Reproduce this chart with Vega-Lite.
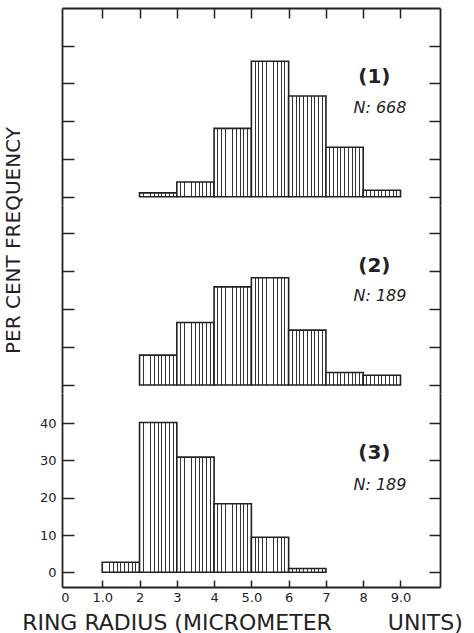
{
  "$schema": "https://vega.github.io/schema/vega-lite/v6.json",
  "background": "white",
  "padding": {"left": 2, "top": 7, "right": 0, "bottom": 0},
  "spacing": 0,
  "bounds": "flush",
  "config": {
    "view": {"stroke": null},
    "axis": {"grid": false, "domainColor": "#222", "domainWidth": 1.8, "tickColor": "#222", "tickWidth": 1.5, "labelFont": "DejaVu Sans", "labelColor": "#222", "titleFont": "DejaVu Sans", "titleColor": "#222", "titleFontWeight": "normal"}
  },
  "datasets": {
    "bars": [
      {"panel": "1", "x0": 2, "x1": 3, "pct": 1.0},
      {"panel": "1", "x0": 3, "x1": 4, "pct": 3.9},
      {"panel": "1", "x0": 4, "x1": 5, "pct": 18.1},
      {"panel": "1", "x0": 5, "x1": 6, "pct": 35.9},
      {"panel": "1", "x0": 6, "x1": 7, "pct": 26.7},
      {"panel": "1", "x0": 7, "x1": 8, "pct": 13.1},
      {"panel": "1", "x0": 8, "x1": 9, "pct": 1.7},
      {"panel": "2", "x0": 2, "x1": 3, "pct": 7.9},
      {"panel": "2", "x0": 3, "x1": 4, "pct": 16.5},
      {"panel": "2", "x0": 4, "x1": 5, "pct": 25.9},
      {"panel": "2", "x0": 5, "x1": 6, "pct": 28.3},
      {"panel": "2", "x0": 6, "x1": 7, "pct": 14.5},
      {"panel": "2", "x0": 7, "x1": 8, "pct": 3.3},
      {"panel": "2", "x0": 8, "x1": 9, "pct": 2.6},
      {"panel": "3", "x0": 1, "x1": 2, "pct": 2.7},
      {"panel": "3", "x0": 2, "x1": 3, "pct": 40.2},
      {"panel": "3", "x0": 3, "x1": 4, "pct": 30.9},
      {"panel": "3", "x0": 4, "x1": 5, "pct": 18.4},
      {"panel": "3", "x0": 5, "x1": 6, "pct": 9.4},
      {"panel": "3", "x0": 6, "x1": 7, "pct": 1.0}
    ],
    "labels": [
      {"panel": "1", "tag": "(1)", "n": "N: 668"},
      {"panel": "2", "tag": "(2)", "n": "N: 189"},
      {"panel": "3", "tag": "(3)", "n": "N: 189"}
    ]
  },
  "vconcat": [
    {
      "width": 378, "height": 197,
      "layer": [
        {
          "data": {"name": "bars"},
          "transform": [{"filter": "datum.panel == '1'"}],
          "mark": {"type": "rect", "stroke": "#222", "strokeWidth": 1.6, "fill": {"gradient": "linear", "x1": 0, "x2": 1, "y1": 0, "y2": 0, "stops": [
            {"offset": 0, "color": "white"},
            {"offset": 0.087, "color": "white"}, {"offset": 0.087, "color": "#333"}, {"offset": 0.113, "color": "#333"}, {"offset": 0.113, "color": "white"},
            {"offset": 0.187, "color": "white"}, {"offset": 0.187, "color": "#333"}, {"offset": 0.213, "color": "#333"}, {"offset": 0.213, "color": "white"},
            {"offset": 0.287, "color": "white"}, {"offset": 0.287, "color": "#333"}, {"offset": 0.313, "color": "#333"}, {"offset": 0.313, "color": "white"},
            {"offset": 0.387, "color": "white"}, {"offset": 0.387, "color": "#333"}, {"offset": 0.413, "color": "#333"}, {"offset": 0.413, "color": "white"},
            {"offset": 0.487, "color": "white"}, {"offset": 0.487, "color": "#333"}, {"offset": 0.513, "color": "#333"}, {"offset": 0.513, "color": "white"},
            {"offset": 0.587, "color": "white"}, {"offset": 0.587, "color": "#333"}, {"offset": 0.613, "color": "#333"}, {"offset": 0.613, "color": "white"},
            {"offset": 0.687, "color": "white"}, {"offset": 0.687, "color": "#333"}, {"offset": 0.713, "color": "#333"}, {"offset": 0.713, "color": "white"},
            {"offset": 0.787, "color": "white"}, {"offset": 0.787, "color": "#333"}, {"offset": 0.813, "color": "#333"}, {"offset": 0.813, "color": "white"},
            {"offset": 0.887, "color": "white"}, {"offset": 0.887, "color": "#333"}, {"offset": 0.913, "color": "#333"}, {"offset": 0.913, "color": "white"},
            {"offset": 1, "color": "white"}]}},
          "encoding": {
            "x": {"field": "x0", "type": "quantitative", "scale": {"domain": [-0.08, 10.06], "nice": false, "zero": false},
                  "axis": {"orient": "top", "values": [1, 2, 3, 4, 5, 6, 7, 8, 9], "labels": false, "tickSize": -10, "title": null}},
            "x2": {"field": "x1"},
            "y": {"field": "pct", "type": "quantitative", "scale": {"domain": [-2.2, 50], "nice": false, "zero": false},
                  "axis": {"orient": "left", "values": [0, 10, 20, 30, 40], "labels": false, "tickSize": -12, "title": null}},
            "y2": {"datum": 0}
          }
        },
        {
          "data": {"name": "labels"},
          "transform": [{"filter": "datum.panel == '1'"}],
          "mark": {"type": "text", "font": "DejaVu Sans", "fontSize": 20, "fontWeight": "bold", "color": "#222", "align": "center", "baseline": "middle"},
          "encoding": {
            "x": {"datum": 8.3, "type": "quantitative", "axis": null},
            "y": {"datum": 31.7, "type": "quantitative", "axis": {"orient": "right", "values": [0, 10, 20, 30, 40], "labels": false, "tickSize": -11, "title": null}},
            "text": {"field": "tag"}
          }
        },
        {
          "data": {"name": "labels"},
          "transform": [{"filter": "datum.panel == '1'"}],
          "mark": {"type": "text", "font": "DejaVu Sans", "fontSize": 16, "fontStyle": "italic", "color": "#222", "align": "center", "baseline": "middle"},
          "encoding": {
            "x": {"datum": 8.45, "type": "quantitative", "axis": null},
            "y": {"datum": 23.5, "type": "quantitative", "axis": null},
            "text": {"field": "n"}
          }
        }
      ],
      "resolve": {"axis": {"x": "independent", "y": "independent"}}
    },
    {
      "width": 378, "height": 188,
      "layer": [
        {
          "data": {"name": "bars"},
          "transform": [{"filter": "datum.panel == '2'"}],
          "mark": {"type": "rect", "stroke": "#222", "strokeWidth": 1.6, "fill": {"gradient": "linear", "x1": 0, "x2": 1, "y1": 0, "y2": 0, "stops": [
            {"offset": 0, "color": "white"},
            {"offset": 0.087, "color": "white"}, {"offset": 0.087, "color": "#333"}, {"offset": 0.113, "color": "#333"}, {"offset": 0.113, "color": "white"},
            {"offset": 0.187, "color": "white"}, {"offset": 0.187, "color": "#333"}, {"offset": 0.213, "color": "#333"}, {"offset": 0.213, "color": "white"},
            {"offset": 0.287, "color": "white"}, {"offset": 0.287, "color": "#333"}, {"offset": 0.313, "color": "#333"}, {"offset": 0.313, "color": "white"},
            {"offset": 0.387, "color": "white"}, {"offset": 0.387, "color": "#333"}, {"offset": 0.413, "color": "#333"}, {"offset": 0.413, "color": "white"},
            {"offset": 0.487, "color": "white"}, {"offset": 0.487, "color": "#333"}, {"offset": 0.513, "color": "#333"}, {"offset": 0.513, "color": "white"},
            {"offset": 0.587, "color": "white"}, {"offset": 0.587, "color": "#333"}, {"offset": 0.613, "color": "#333"}, {"offset": 0.613, "color": "white"},
            {"offset": 0.687, "color": "white"}, {"offset": 0.687, "color": "#333"}, {"offset": 0.713, "color": "#333"}, {"offset": 0.713, "color": "white"},
            {"offset": 0.787, "color": "white"}, {"offset": 0.787, "color": "#333"}, {"offset": 0.813, "color": "#333"}, {"offset": 0.813, "color": "white"},
            {"offset": 0.887, "color": "white"}, {"offset": 0.887, "color": "#333"}, {"offset": 0.913, "color": "#333"}, {"offset": 0.913, "color": "white"},
            {"offset": 1, "color": "white"}]}},
          "encoding": {
            "x": {"field": "x0", "type": "quantitative", "scale": {"domain": [-0.08, 10.06], "nice": false, "zero": false}, "axis": null},
            "x2": {"field": "x1"},
            "y": {"field": "pct", "type": "quantitative", "scale": {"domain": [-2.1, 47.5], "nice": false, "zero": false},
                  "axis": {"orient": "left", "values": [0, 10, 20, 30, 40], "labels": false, "tickSize": -12,
                           "title": "PER CENT FREQUENCY", "titleFontSize": 20, "titleX": -49, "titleY": 35, "titleAngle": 270, "titleAlign": "center", "titleBaseline": "middle"}},
            "y2": {"datum": 0}
          }
        },
        {
          "data": {"name": "labels"},
          "transform": [{"filter": "datum.panel == '2'"}],
          "mark": {"type": "text", "font": "DejaVu Sans", "fontSize": 20, "fontWeight": "bold", "color": "#222", "align": "center", "baseline": "middle"},
          "encoding": {
            "x": {"datum": 8.3, "type": "quantitative", "axis": null},
            "y": {"datum": 31.4, "type": "quantitative", "axis": {"orient": "right", "values": [0, 10, 20, 30, 40], "labels": false, "tickSize": -11, "title": null}},
            "text": {"field": "tag"}
          }
        },
        {
          "data": {"name": "labels"},
          "transform": [{"filter": "datum.panel == '2'"}],
          "mark": {"type": "text", "font": "DejaVu Sans", "fontSize": 16, "fontStyle": "italic", "color": "#222", "align": "center", "baseline": "middle"},
          "encoding": {
            "x": {"datum": 8.45, "type": "quantitative", "axis": null},
            "y": {"datum": 23.5, "type": "quantitative", "axis": null},
            "text": {"field": "n"}
          }
        }
      ],
      "resolve": {"axis": {"x": "independent", "y": "independent"}}
    },
    {
      "width": 378, "height": 194,
      "layer": [
        {
          "data": {"name": "bars"},
          "transform": [{"filter": "datum.panel == '3'"}],
          "mark": {"type": "rect", "stroke": "#222", "strokeWidth": 1.6, "fill": {"gradient": "linear", "x1": 0, "x2": 1, "y1": 0, "y2": 0, "stops": [
            {"offset": 0, "color": "white"},
            {"offset": 0.087, "color": "white"}, {"offset": 0.087, "color": "#333"}, {"offset": 0.113, "color": "#333"}, {"offset": 0.113, "color": "white"},
            {"offset": 0.187, "color": "white"}, {"offset": 0.187, "color": "#333"}, {"offset": 0.213, "color": "#333"}, {"offset": 0.213, "color": "white"},
            {"offset": 0.287, "color": "white"}, {"offset": 0.287, "color": "#333"}, {"offset": 0.313, "color": "#333"}, {"offset": 0.313, "color": "white"},
            {"offset": 0.387, "color": "white"}, {"offset": 0.387, "color": "#333"}, {"offset": 0.413, "color": "#333"}, {"offset": 0.413, "color": "white"},
            {"offset": 0.487, "color": "white"}, {"offset": 0.487, "color": "#333"}, {"offset": 0.513, "color": "#333"}, {"offset": 0.513, "color": "white"},
            {"offset": 0.587, "color": "white"}, {"offset": 0.587, "color": "#333"}, {"offset": 0.613, "color": "#333"}, {"offset": 0.613, "color": "white"},
            {"offset": 0.687, "color": "white"}, {"offset": 0.687, "color": "#333"}, {"offset": 0.713, "color": "#333"}, {"offset": 0.713, "color": "white"},
            {"offset": 0.787, "color": "white"}, {"offset": 0.787, "color": "#333"}, {"offset": 0.813, "color": "#333"}, {"offset": 0.813, "color": "white"},
            {"offset": 0.887, "color": "white"}, {"offset": 0.887, "color": "#333"}, {"offset": 0.913, "color": "#333"}, {"offset": 0.913, "color": "white"},
            {"offset": 1, "color": "white"}]}},
          "encoding": {
            "x": {"field": "x0", "type": "quantitative", "scale": {"domain": [-0.08, 10.06], "nice": false, "zero": false},
                  "axis": {"orient": "bottom", "values": [0, 1, 2, 3, 4, 5, 6, 7, 8, 9], "tickSize": -7, "labelFontSize": 13, "labelPadding": 11,
                           "labelExpr": "indexof([1, 5, 9], datum.value) >= 0 ? format(datum.value, '.1f') : format(datum.value, 'd')",
                           "tickOpacity": {"condition": {"test": "datum.value == 0", "value": 0}, "value": 1},
                           "title": "RING RADIUS (MICROMETER\u00a0\u00a0\u00a0\u00a0\u00a0\u00a0\u00a0\u00a0UNITS)", "titleFontSize": 22, "titleX": 180, "titleY": 35, "titleBaseline": "middle"}},
            "x2": {"field": "x1"},
            "y": {"field": "pct", "type": "quantitative", "scale": {"domain": [-3.95, 48.1], "nice": false, "zero": false},
                  "axis": {"orient": "left", "values": [0, 10, 20, 30, 40], "tickSize": -12, "labelFontSize": 13, "labelPadding": 18, "title": null}},
            "y2": {"datum": 0}
          }
        },
        {
          "data": {"name": "labels"},
          "transform": [{"filter": "datum.panel == '3'"}],
          "mark": {"type": "text", "font": "DejaVu Sans", "fontSize": 20, "fontWeight": "bold", "color": "#222", "align": "center", "baseline": "middle"},
          "encoding": {
            "x": {"datum": 8.3, "type": "quantitative", "axis": null},
            "y": {"datum": 32.0, "type": "quantitative", "axis": {"orient": "right", "values": [0, 10, 20, 30, 40], "labels": false, "tickSize": -11, "title": null}},
            "text": {"field": "tag"}
          }
        },
        {
          "data": {"name": "labels"},
          "transform": [{"filter": "datum.panel == '3'"}],
          "mark": {"type": "text", "font": "DejaVu Sans", "fontSize": 16, "fontStyle": "italic", "color": "#222", "align": "center", "baseline": "middle"},
          "encoding": {
            "x": {"datum": 8.45, "type": "quantitative", "axis": null},
            "y": {"datum": 23.4, "type": "quantitative", "axis": null},
            "text": {"field": "n"}
          }
        }
      ],
      "resolve": {"axis": {"x": "independent", "y": "independent"}}
    }
  ]
}
